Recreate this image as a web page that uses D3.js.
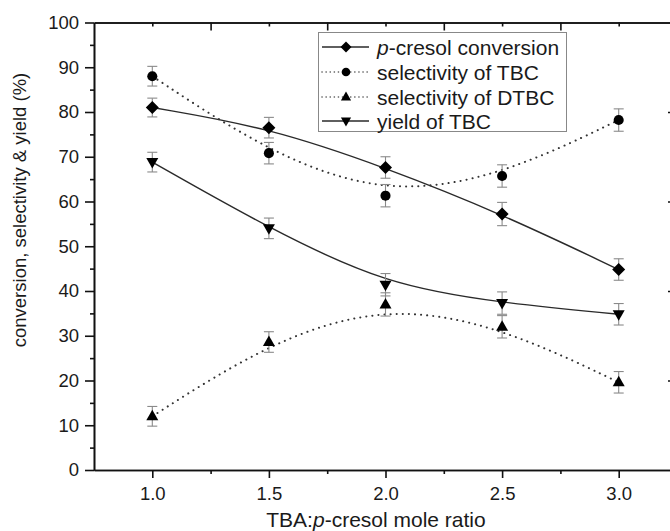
<!DOCTYPE html>
<html>
<head>
<meta charset="utf-8">
<script src="https://cdn.jsdelivr.net/npm/d3@7"></script>
<style>
body { margin: 0; background: #fff; }
text { font-family: "Liberation Sans", Arial, sans-serif; fill: #1a1a1a; }
</style>
</head>
<body>
<svg width="670" height="531"></svg>
<script>
// mole ratio TBA : p-cresol
var ratios = [1.0, 1.5, 2.0, 2.5, 3.0];

var conversion    = [81.0, 76.5, 67.6, 57.2, 44.8];
var conversionErr = [2.1, 2.3, 2.4, 2.6, 2.4];
var selTBC        = [88.0, 70.8, 61.3, 65.7, 78.2];
var selTBCErr     = [2.2, 2.4, 2.5, 2.5, 2.5];
var selDTBC       = [12.0, 28.6, 37.0, 32.0, 19.6];
var selDTBCErr    = [2.2, 2.3, 2.6, 2.5, 2.4];
var yieldTBC      = [68.8, 54.0, 41.4, 37.3, 34.8];
var yieldErr      = [2.2, 2.3, 2.5, 2.5, 2.4];

var yTicks = [0, 10, 20, 30, 40, 50, 60, 70, 80, 90, 100];
var yMinor = [5, 15, 25, 35, 45, 55, 65, 75, 85, 95];
var xTicks = [1.0, 1.5, 2.0, 2.5, 3.0];
var xMinor = [1.25, 1.75, 2.25, 2.75];
var rightLong = [20, 40, 60, 80];
var rightShort = [10, 30, 50, 70, 90];

var svg = d3.select("svg");

var x = d3.scaleLinear().domain([0.75, 3.25]).range([94, 677]);
var y = d3.scaleLinear().domain([0, 100]).range([470, 22.5]);

// markers
var shapes = {
	diamond: "M0,-6.5L6.5,0L0,6.5L-6.5,0Z",
	circle: d3.symbol().type(d3.symbolCircle).size(80)(),
	up: "M0,-6.5L6,4L-6,4Z",
	down: "M0,6.5L6,-4L-6,-4Z"
};

var series = [
	{ vals: conversion, err: conversionErr, shape: "diamond", dash: null },
	{ vals: selTBC, err: selTBCErr, shape: "circle", dash: "0.1,6" },
	{ vals: selDTBC, err: selDTBCErr, shape: "up", dash: "0.1,6" },
	{ vals: yieldTBC, err: yieldErr, shape: "down", dash: null }
];

// axes
function styleAxis(g){
	g.selectAll("path, line").attr("stroke", "#111").attr("stroke-width", 1.6);
	g.selectAll("text").attr("font-size", 18.5).attr("fill", "#1a1a1a")
		.attr("font-family", "Liberation Sans, Arial, sans-serif");
}

svg.append("g").attr("transform", "translate(94,0)")
	.call(d3.axisLeft(y).tickValues(yMinor).tickSize(4).tickFormat("").tickSizeOuter(0))
	.call(styleAxis);
svg.append("g").attr("transform", "translate(94,0)")
	.call(d3.axisLeft(y).tickValues(yTicks).tickSize(9).tickPadding(6).tickSizeOuter(0))
	.call(styleAxis);

svg.append("g").attr("transform", "translate(0,470)")
	.call(d3.axisBottom(x).tickValues(xMinor).tickSize(4).tickFormat("").tickSizeOuter(0))
	.call(styleAxis);
svg.append("g").attr("transform", "translate(0,470)")
	.call(d3.axisBottom(x).tickValues(xTicks).tickSize(8).tickPadding(9)
		.tickFormat(d3.format(".1f")).tickSizeOuter(0))
	.call(styleAxis);

// mirrored top and right axes, ticks inward
svg.append("g").attr("transform", "translate(0,22.5)")
	.call(d3.axisTop(x).tickValues(xMinor).tickSize(-8).tickFormat("").tickSizeOuter(0))
	.call(styleAxis);
svg.append("g").attr("transform", "translate(0,22.5)")
	.call(d3.axisTop(x).tickValues(xTicks).tickSize(-4).tickFormat("").tickSizeOuter(0))
	.call(styleAxis);
svg.append("g").attr("transform", "translate(677,0)")
	.call(d3.axisRight(y).tickValues(rightLong).tickSize(-9).tickFormat("").tickSizeOuter(0))
	.call(styleAxis);
svg.append("g").attr("transform", "translate(677,0)")
	.call(d3.axisRight(y).tickValues(rightShort).tickSize(-4).tickFormat("").tickSizeOuter(0))
	.call(styleAxis);

// fitted curves
var line = d3.line()
	.x(function(d, i){ return x(ratios[i]); })
	.y(function(d){ return y(d); })
	.curve(d3.curveBasis);

svg.append("g").selectAll("path")
	.data(series)
	.enter()
	.append("path")
	.attr("d", function(s){ return line(s.vals); })
	.attr("fill", "none")
	.attr("stroke", function(s){ return s.dash ? "#333" : "#2a2a2a"; })
	.attr("stroke-width", function(s){ return s.dash ? 2 : 1.4; })
	.attr("stroke-linecap", function(s){ return s.dash ? "round" : "butt"; })
	.attr("stroke-dasharray", function(s){ return s.dash; });

// error bars
series.forEach(function(s){
	var g = svg.append("g").attr("stroke", "#8a8a8a").attr("stroke-width", 1.1);
	s.vals.forEach(function(v, i){
		var cx = x(ratios[i]), top = y(v + s.err[i]), bot = y(v - s.err[i]);
		g.append("line").attr("x1", cx).attr("x2", cx).attr("y1", top).attr("y2", bot);
		g.append("line").attr("x1", cx - 5).attr("x2", cx + 5).attr("y1", top).attr("y2", top);
		g.append("line").attr("x1", cx - 5).attr("x2", cx + 5).attr("y1", bot).attr("y2", bot);
	});
});

// points
series.forEach(function(s){
	svg.append("g").selectAll("path")
		.data(s.vals)
		.enter()
		.append("path")
		.attr("d", shapes[s.shape])
		.attr("transform", function(d, i){ return "translate(" + x(ratios[i]) + "," + y(d) + ")"; })
		.attr("fill", "#000");
});

// legend
var legend = svg.append("g");
legend.append("rect")
	.attr("x", 318.5).attr("y", 32.5).attr("width", 248).attr("height", 99)
	.attr("fill", "#fff").attr("stroke", "#888").attr("stroke-width", 1);

var legendRows = [47, 72, 97, 121];
series.forEach(function(s, i){
	var ly = legendRows[i];
	legend.append("line")
		.attr("x1", 322).attr("x2", 369).attr("y1", ly).attr("y2", ly)
		.attr("stroke", s.dash ? "#555" : "#2a2a2a")
		.attr("stroke-width", s.dash ? 1.6 : 1.4)
		.attr("stroke-linecap", s.dash ? "round" : "butt")
		.attr("stroke-dasharray", s.dash ? "0.1,4" : null);
	legend.append("path")
		.attr("d", shapes[s.shape])
		.attr("transform", "translate(346," + ly + ") scale(0.85)")
		.attr("fill", "#000");
});

var legendLabels = ["-cresol conversion", "selectivity of TBC", "selectivity of DTBC", "yield of TBC"];
legendLabels.forEach(function(t, i){
	var txt = legend.append("text")
		.attr("x", 377).attr("y", legendRows[i] + 7.5)
		.attr("font-size", 21);
	if (i === 0) {
		txt.append("tspan").attr("font-style", "italic").text("p");
	}
	txt.append("tspan").text(t);
});

// axis titles
var xt = svg.append("text")
	.attr("x", 376).attr("y", 527)
	.attr("text-anchor", "middle")
	.attr("font-size", 21);
xt.append("tspan").text("TBA:");
xt.append("tspan").attr("font-style", "italic").text("p");
xt.append("tspan").text("-cresol mole ratio");

svg.append("text")
	.attr("transform", "translate(26,210) rotate(-90)")
	.attr("text-anchor", "middle")
	.attr("font-size", 18.5)
	.text("conversion, selectivity & yield (%)");
</script>
</body>
</html>
